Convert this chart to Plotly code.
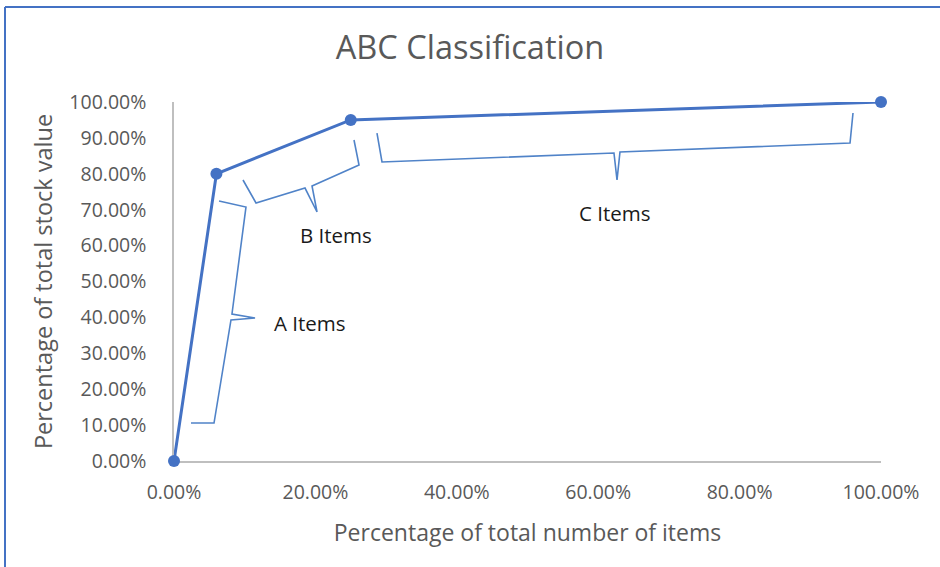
import plotly.graph_objects as go

# Cumulative share of items vs cumulative share of stock value
share_of_items = [0.0, 0.06, 0.25, 1.0]
share_of_value = [0.0, 0.80, 0.95, 1.0]

x_ticks = [0.0, 0.2, 0.4, 0.6, 0.8, 1.0]
y_ticks = [0.0, 0.1, 0.2, 0.3, 0.4, 0.5, 0.6, 0.7, 0.8, 0.9, 1.0]

# Curly braces marking each class, as (x, y) vertices in data units:
# tip, corner, inner cusp, point, inner cusp, corner, tip
brace_a = [(0.0637, 0.7242), (0.1018, 0.7075), (0.0820, 0.4095), (0.1146, 0.3983),
           (0.0806, 0.3928), (0.0566, 0.1058), (0.0240, 0.1058)]
brace_b = [(0.0976, 0.7827), (0.1160, 0.7187), (0.1853, 0.7604), (0.2023, 0.6936),
           (0.1952, 0.7660), (0.2617, 0.8245), (0.2546, 0.8942)]
brace_c = [(0.2871, 0.9136), (0.2942, 0.8329), (0.6223, 0.8579), (0.6266, 0.7827),
           (0.6308, 0.8607), (0.9562, 0.8858), (0.9604, 0.9694)]

class_labels = ["A Items", "B Items", "C Items"]
label_pos = [(0.1924, 0.3844), (0.2291, 0.6295), (0.6238, 0.6908)]

W, H = 940, 567
M_L, M_R, M_T, M_B = 174, 59, 102, 106
PW, PH = W - M_L - M_R, H - M_T - M_B

BLUE = "#4472C4"
BRACE_BLUE = "#5083C8"
GREY_TXT = "#595959"
FONT = "Open Sans"


def px_x(px):
    return (px - M_L) / PW


def px_y(py):
    return (H - M_B - py) / PH


def brace_path(pts):
    d = "M {} {}".format(*pts[0])
    for x, y in pts[1:]:
        d += " L {} {}".format(x, y)
    return d


fig = go.Figure()
fig.add_trace(go.Scatter(
    x=share_of_items, y=share_of_value, mode="lines+markers",
    line=dict(color=BLUE, width=3),
    marker=dict(color=BLUE, size=12),
    cliponaxis=False, showlegend=False,
))

shapes = []
for pts in (brace_a, brace_b, brace_c):
    shapes.append(dict(type="path", xref="x", yref="y", path=brace_path(pts),
                       line=dict(color=BRACE_BLUE, width=1.6)))

# frame around the chart (left and top edges)
shapes.append(dict(type="line", xref="paper", yref="paper",
                   x0=px_x(5), x1=px_x(5), y0=px_y(7), y1=px_y(H + 5),
                   line=dict(color=BLUE, width=2)))
shapes.append(dict(type="line", xref="paper", yref="paper",
                   x0=px_x(5), x1=px_x(W + 5), y0=px_y(7), y1=px_y(7),
                   line=dict(color=BLUE, width=2)))

annotations = []
for text, (lx, ly) in zip(class_labels, label_pos):
    annotations.append(dict(x=lx, y=ly, xref="x", yref="y", text=text,
                            showarrow=False, xanchor="center", yanchor="middle",
                            font=dict(family=FONT, size=20.5, color="#1a1a1a")))

fig.update_layout(
    width=W, height=H,
    margin=dict(l=M_L, r=M_R, t=M_T, b=M_B, autoexpand=False),
    paper_bgcolor="white", plot_bgcolor="white",
    title=dict(text="ABC Classification", x=0.5, xanchor="center",
               y=1 - 48 / H, yanchor="middle", yref="container",
               font=dict(family=FONT, size=32.5, color=GREY_TXT)),
    shapes=shapes, annotations=annotations,
    xaxis=dict(range=[0, 1], tickvals=x_ticks, tickformat=".2%",
               showgrid=False, zeroline=False, showline=True,
               linecolor="#BFBFBF", linewidth=1.5, layer="below traces",
               ticks="", ticklabelstandoff=13,
               tickfont=dict(family=FONT, size=19.5, color=GREY_TXT),
               title=dict(text="Percentage of total number of items", standoff=21,
                          font=dict(family=FONT, size=23, color=GREY_TXT)),
               automargin=False),
    yaxis=dict(range=[0, 1], tickvals=y_ticks, tickformat=".2%",
               showgrid=False, zeroline=False, showline=True,
               linecolor="#BFBFBF", linewidth=1.5, layer="below traces",
               ticks="", ticklabelstandoff=22,
               tickfont=dict(family=FONT, size=19.5, color=GREY_TXT),
               title=dict(text="Percentage of total stock value", standoff=10,
                          font=dict(family=FONT, size=23.5, color=GREY_TXT)),
               automargin=False),
)

fig.write_html("out.html")
